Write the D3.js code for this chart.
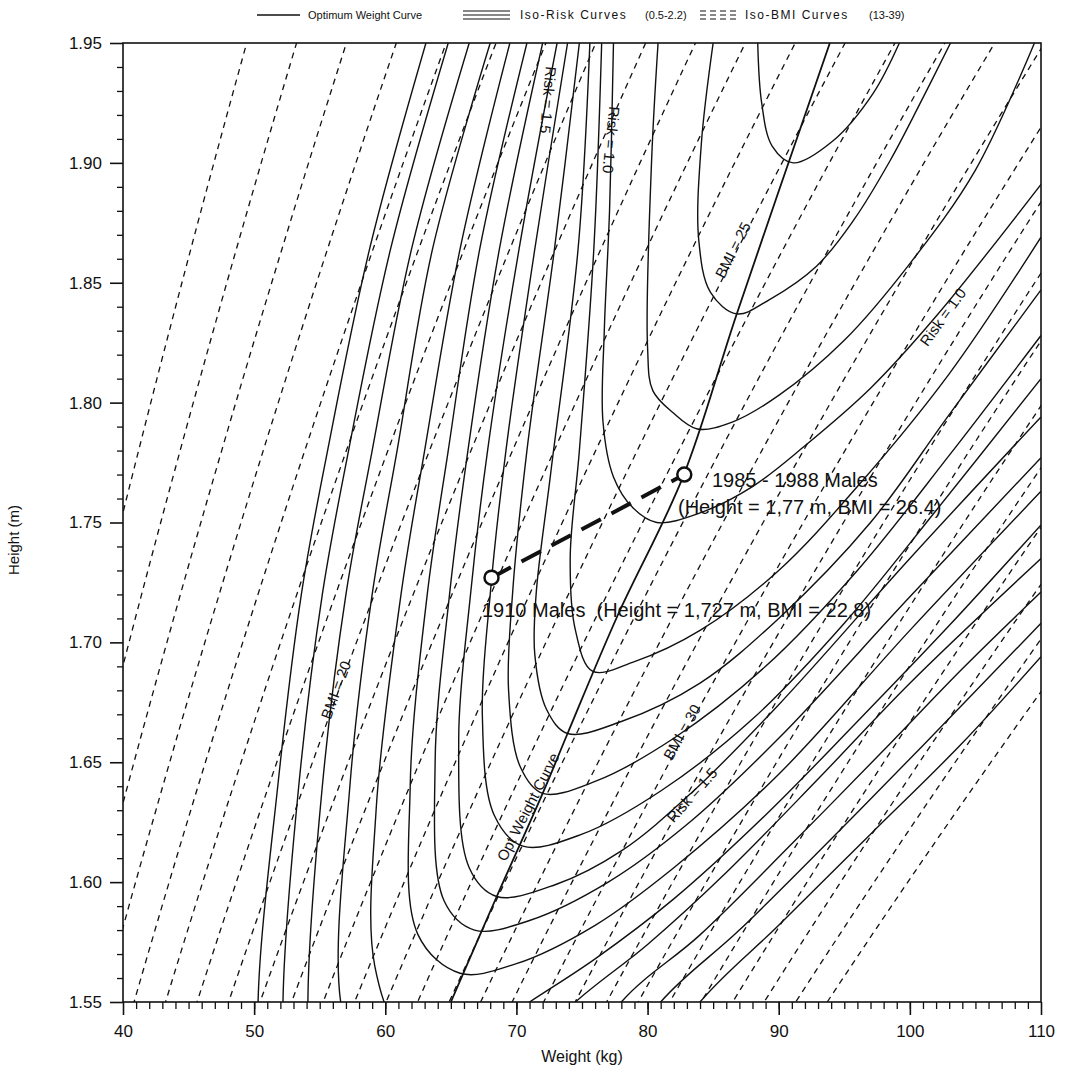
<!DOCTYPE html>
<html>
<head>
<meta charset="utf-8">
<script src="https://d3js.org/d3.v7.min.js"></script>
<style>
  body { margin: 0; background: #fff; }
  text { font-family: "Liberation Sans", Arial, sans-serif; fill: #111; }
</style>
</head>
<body>
<script>
// axis ticks
var weightTicks = [40, 50, 60, 70, 80, 90, 100, 110];
var heightTicks = [1.55, 1.60, 1.65, 1.70, 1.75, 1.80, 1.85, 1.90, 1.95];

// iso-BMI levels (13-39)
var bmiLevels = d3.range(13, 40);

// optimum weight curve [weight, height]
var optCurve = [[65.0,1.55],[68.5,1.594],[72.0,1.637],[73.9,1.662],[77.7,1.711],[82.7,1.769],[86.8,1.837],[93.9,1.95]];

// iso-risk curves [weight, height] (points below 1.55 are clipped)
var riskCurves = [
  [[88.4,1.95],[88.7,1.925],[89.5,1.907],[91.1,1.900],[94.1,1.909],[97.2,1.929],[99.2,1.95]],
  [[85.0,1.95],[84.1,1.908],[83.9,1.868],[84.8,1.846],[86.8,1.837],[89.3,1.843],[92.9,1.857],[95.7,1.876],[98.5,1.901],[100.8,1.925],[103.1,1.95]],
  [[80.8,1.95],[80.3,1.90],[80.0,1.823],[80.4,1.805],[81.9,1.796],[83.8,1.789],[86.5,1.792],[90,1.803],[95,1.826],[100,1.858],[105,1.897],[109.5,1.95]],
  [[77.4,1.95],[77.1,1.88],[76.7,1.83],[76.6,1.792],[77.4,1.769],[78.9,1.756],[80.7,1.750],[84,1.754],[88,1.765],[92,1.782],[97,1.806],[102,1.836],[110,1.891]],
  [[76.5,1.95],[75.9,1.864],[74.8,1.78],[74.1,1.735],[74.5,1.705],[75.8,1.688],[79,1.692],[84,1.705],[90,1.730],[96,1.765],[103,1.812],[110,1.869]],
  [[75.6,1.95],[74.7,1.864],[72.6,1.77],[71.5,1.72],[71.4,1.695],[72.3,1.672],[73.9,1.662],[78,1.667],[84,1.683],[90,1.710],[97,1.750],[103,1.795],[110,1.847]],
  [[74.8,1.95],[72.9,1.864],[70.8,1.78],[69.7,1.72],[69.4,1.68],[70.3,1.648],[72.0,1.637],[76,1.642],[82,1.660],[89,1.690],[96,1.730],[103,1.778],[110,1.828]],
  [[73.9,1.95],[71.4,1.864],[69.2,1.78],[68.0,1.72],[67.4,1.67],[68.3,1.628],[70.5,1.615],[75,1.620],[81,1.638],[88,1.668],[95,1.708],[102,1.755],[110,1.810]],
  [[73.1,1.95],[70.2,1.864],[67.8,1.78],[66.5,1.72],[65.6,1.66],[66.4,1.606],[68.5,1.594],[73,1.599],[78,1.613],[83.3,1.637],[90,1.674],[100,1.735],[110,1.794]],
  [[72.0,1.95],[68.7,1.864],[66.3,1.78],[64.9,1.72],[63.8,1.65],[64.5,1.592],[66.8,1.580],[71,1.584],[77,1.600],[83,1.624],[90,1.660],[100,1.719],[110,1.777]],
  [[70.8,1.95],[67.2,1.864],[64.8,1.78],[63.2,1.72],[61.9,1.64],[62.5,1.578],[65.7,1.562],[70,1.566],[76,1.582],[82,1.606],[90,1.645],[100,1.705],[110,1.763]],
  [[69.5,1.95],[65.7,1.864],[63.0,1.78],[61.2,1.72],[59.3,1.63],[59.2,1.565],[61.5,1.535],[65.5,1.53],[71,1.55],[76,1.568],[82,1.593],[89,1.628],[96,1.667],[103,1.707],[110,1.749]],
  [[68.0,1.95],[63.6,1.864],[60.9,1.78],[59.0,1.72],[57.3,1.64],[56.6,1.55],[58.5,1.52],[64,1.505],[70,1.525],[74.5,1.55],[80,1.574],[86,1.604],[93,1.643],[100,1.683],[110,1.735]],
  [[66.4,1.95],[62.0,1.864],[59.0,1.78],[57.0,1.72],[55.2,1.64],[54.1,1.55],[54.6,1.50],[60,1.45],[68,1.46],[74,1.515],[78,1.55],[84,1.578],[91,1.616],[98,1.655],[104,1.689],[110,1.721]],
  [[64.8,1.95],[60.4,1.864],[57.2,1.78],[55.2,1.72],[53.4,1.64],[52.2,1.55],[52.6,1.50],[58,1.44],[68,1.45],[76,1.51],[81,1.55],[87,1.58],[94,1.618],[101,1.657],[110,1.708]],
  [[63.1,1.95],[58.8,1.864],[55.6,1.78],[53.6,1.72],[51.8,1.64],[50.3,1.55],[50.7,1.50],[56,1.43],[68,1.44],[79,1.51],[84,1.55],[90,1.582],[97,1.62],[104,1.658],[110,1.694]]
];

// the two survey points
var cohorts = [
  {name: "1910", weight: 68.1, height: 1.727},
  {name: "1985", weight: 82.8, height: 1.77}
];

var W = 1067, H = 1079;
var mLeft = 123, mRight = 1041, mTop = 43, mBottom = 1002;

var svg = d3.select("body").append("svg")
  .attr("width", W).attr("height", H);
svg.append("rect").attr("width", W).attr("height", H).attr("fill", "#fff");

var x = d3.scaleLinear().domain([40, 110]).range([mLeft, mRight]);
var y = d3.scaleLinear().domain([1.55, 1.95]).range([mBottom, mTop]);

svg.append("defs").append("clipPath").attr("id", "plot")
  .append("rect").attr("x", mLeft).attr("y", mTop)
  .attr("width", mRight - mLeft).attr("height", mBottom - mTop);

var plot = svg.append("g").attr("clip-path", "url(#plot)");

var line = d3.line()
  .x(function(d) { return x(d[0]); })
  .y(function(d) { return y(d[1]); });

// iso-BMI dashed curves: weight = bmi * height^2
var hSteps = d3.range(1.50, 2.0001, 0.01);
plot.selectAll(".bmi")
  .data(bmiLevels)
  .enter().append("path")
  .attr("class", "bmi")
  .attr("fill", "none")
  .attr("stroke", "#111")
  .attr("stroke-width", 1.3)
  .attr("stroke-dasharray", "6,5")
  .attr("d", function(b) {
    return line(hSteps.map(function(h) { return [b * h * h, h]; }));
  });

// iso-risk curves
var smooth = d3.line()
  .x(function(d) { return x(d[0]); })
  .y(function(d) { return y(d[1]); })
  .curve(d3.curveCatmullRom.alpha(0.5));

plot.selectAll(".risk")
  .data(riskCurves)
  .enter().append("path")
  .attr("class", "risk")
  .attr("fill", "none")
  .attr("stroke", "#111")
  .attr("stroke-width", 1.4)
  .attr("d", smooth);

// optimum weight curve
plot.append("path")
  .attr("fill", "none")
  .attr("stroke", "#111")
  .attr("stroke-width", 1.8)
  .attr("d", smooth(optCurve));

// frame
svg.append("rect")
  .attr("x", mLeft).attr("y", mTop)
  .attr("width", mRight - mLeft).attr("height", mBottom - mTop)
  .attr("fill", "none").attr("stroke", "#111").attr("stroke-width", 1.6);

// x axis
var gx = svg.append("g").attr("transform", "translate(0," + mBottom + ")")
  .call(d3.axisBottom(x).tickValues(weightTicks).tickSize(13).tickPadding(10));
gx.select(".domain").remove();
gx.selectAll("line").attr("stroke", "#111").attr("stroke-width", 1.6);
gx.selectAll("text").attr("font-size", 17);
svg.append("g").attr("transform", "translate(0," + mBottom + ")")
  .call(d3.axisBottom(x).tickValues(d3.range(41, 110)).tickSize(7).tickFormat(""))
  .call(function(g) { g.select(".domain").remove(); })
  .selectAll("line").attr("stroke", "#111").attr("stroke-width", 1.3);

// y axis
var gy = svg.append("g").attr("transform", "translate(" + mLeft + ",0)")
  .call(d3.axisLeft(y).tickValues(heightTicks).tickSize(13).tickPadding(8)
    .tickFormat(d3.format(".2f")));
gy.select(".domain").remove();
gy.selectAll("line").attr("stroke", "#111").attr("stroke-width", 1.6);
gy.selectAll("text").attr("font-size", 17);
var minorH = d3.range(156, 195).filter(function(v) { return v % 5 !== 0; })
  .map(function(v) { return v / 100; });
svg.append("g").attr("transform", "translate(" + mLeft + ",0)")
  .call(d3.axisLeft(y).tickValues(minorH).tickSize(6).tickFormat(""))
  .call(function(g) { g.select(".domain").remove(); })
  .selectAll("line").attr("stroke", "#111").attr("stroke-width", 1.3);

svg.append("text").attr("x", (mLeft + mRight) / 2).attr("y", 1062)
  .attr("text-anchor", "middle").attr("font-size", 16).text("Weight (kg)");
svg.append("text").attr("transform", "translate(19,540) rotate(-90)")
  .attr("text-anchor", "middle").attr("font-size", 15).text("Height (m)");

// survey points and connecting dashed line
svg.append("line")
  .attr("x1", x(cohorts[0].weight)).attr("y1", y(cohorts[0].height))
  .attr("x2", x(cohorts[1].weight)).attr("y2", y(cohorts[1].height))
  .attr("stroke", "#111").attr("stroke-width", 4).attr("stroke-dasharray", "22,12");
svg.selectAll(".pt").data(cohorts).enter().append("circle")
  .attr("cx", function(d) { return x(d.weight); })
  .attr("cy", function(d) { return y(d.height); })
  .attr("r", 7).attr("fill", "#fff").attr("stroke", "#111").attr("stroke-width", 2.5);

var ann = svg.append("g").attr("font-size", 20);
ann.append("text").attr("x", 712).attr("y", 487).text("1985 - 1988 Males");
ann.append("text").attr("x", 678).attr("y", 514).text("(Height = 1,77 m, BMI = 26.4)");
ann.append("text").attr("x", 482).attr("y", 617).attr("xml:space", "preserve")
  .text("1910 Males  (Height = 1,727 m, BMI = 22,8)");

// curve labels
var labels = [
  {t: "Risk = 1.5", x: 548, y: 100, a: 95},
  {t: "Risk = 1.0", x: 611, y: 140, a: 96},
  {t: "BMI = 25", x: 733, y: 250, a: -63},
  {t: "Risk = 1.0", x: 943, y: 317, a: -54},
  {t: "BMI = 20", x: 336, y: 690, a: -70},
  {t: "BMI = 30", x: 682, y: 732, a: -61},
  {t: "Risk = 1.5", x: 692, y: 795, a: -48},
  {t: "Opt Weight Curve", x: 528, y: 807, a: -63}
];
svg.selectAll(".lbl").data(labels).enter().append("text")
  .attr("font-size", 15).attr("text-anchor", "middle").attr("dy", "0.35em")
  .attr("transform", function(d) { return "translate(" + d.x + "," + d.y + ") rotate(" + d.a + ")"; })
  .text(function(d) { return d.t; });

// legend
var lg = svg.append("g").attr("font-size", 11);
lg.append("line").attr("x1", 257).attr("x2", 300).attr("y1", 15).attr("y2", 15)
  .attr("stroke", "#111").attr("stroke-width", 1.3);
lg.append("text").attr("x", 308).attr("y", 19).text("Optimum Weight Curve");
[11, 15, 19].forEach(function(o) {
  lg.append("line").attr("x1", 463).attr("x2", 510).attr("y1", o).attr("y2", o)
    .attr("stroke", "#111").attr("stroke-width", 1.2);
  lg.append("line").attr("x1", 700).attr("x2", 736).attr("y1", o).attr("y2", o)
    .attr("stroke", "#111").attr("stroke-width", 1.2).attr("stroke-dasharray", "6,4");
});
lg.append("text").attr("x", 520).attr("y", 19).attr("font-size", 12).attr("letter-spacing", 1.5).text("Iso-Risk Curves");
lg.append("text").attr("x", 645).attr("y", 19).attr("font-size", 11).text("(0.5-2.2)");
lg.append("text").attr("x", 745).attr("y", 19).attr("font-size", 12).attr("letter-spacing", 1.5).text("Iso-BMI Curves");
lg.append("text").attr("x", 869).attr("y", 19).attr("font-size", 11).text("(13-39)");
</script>
</body>
</html>
